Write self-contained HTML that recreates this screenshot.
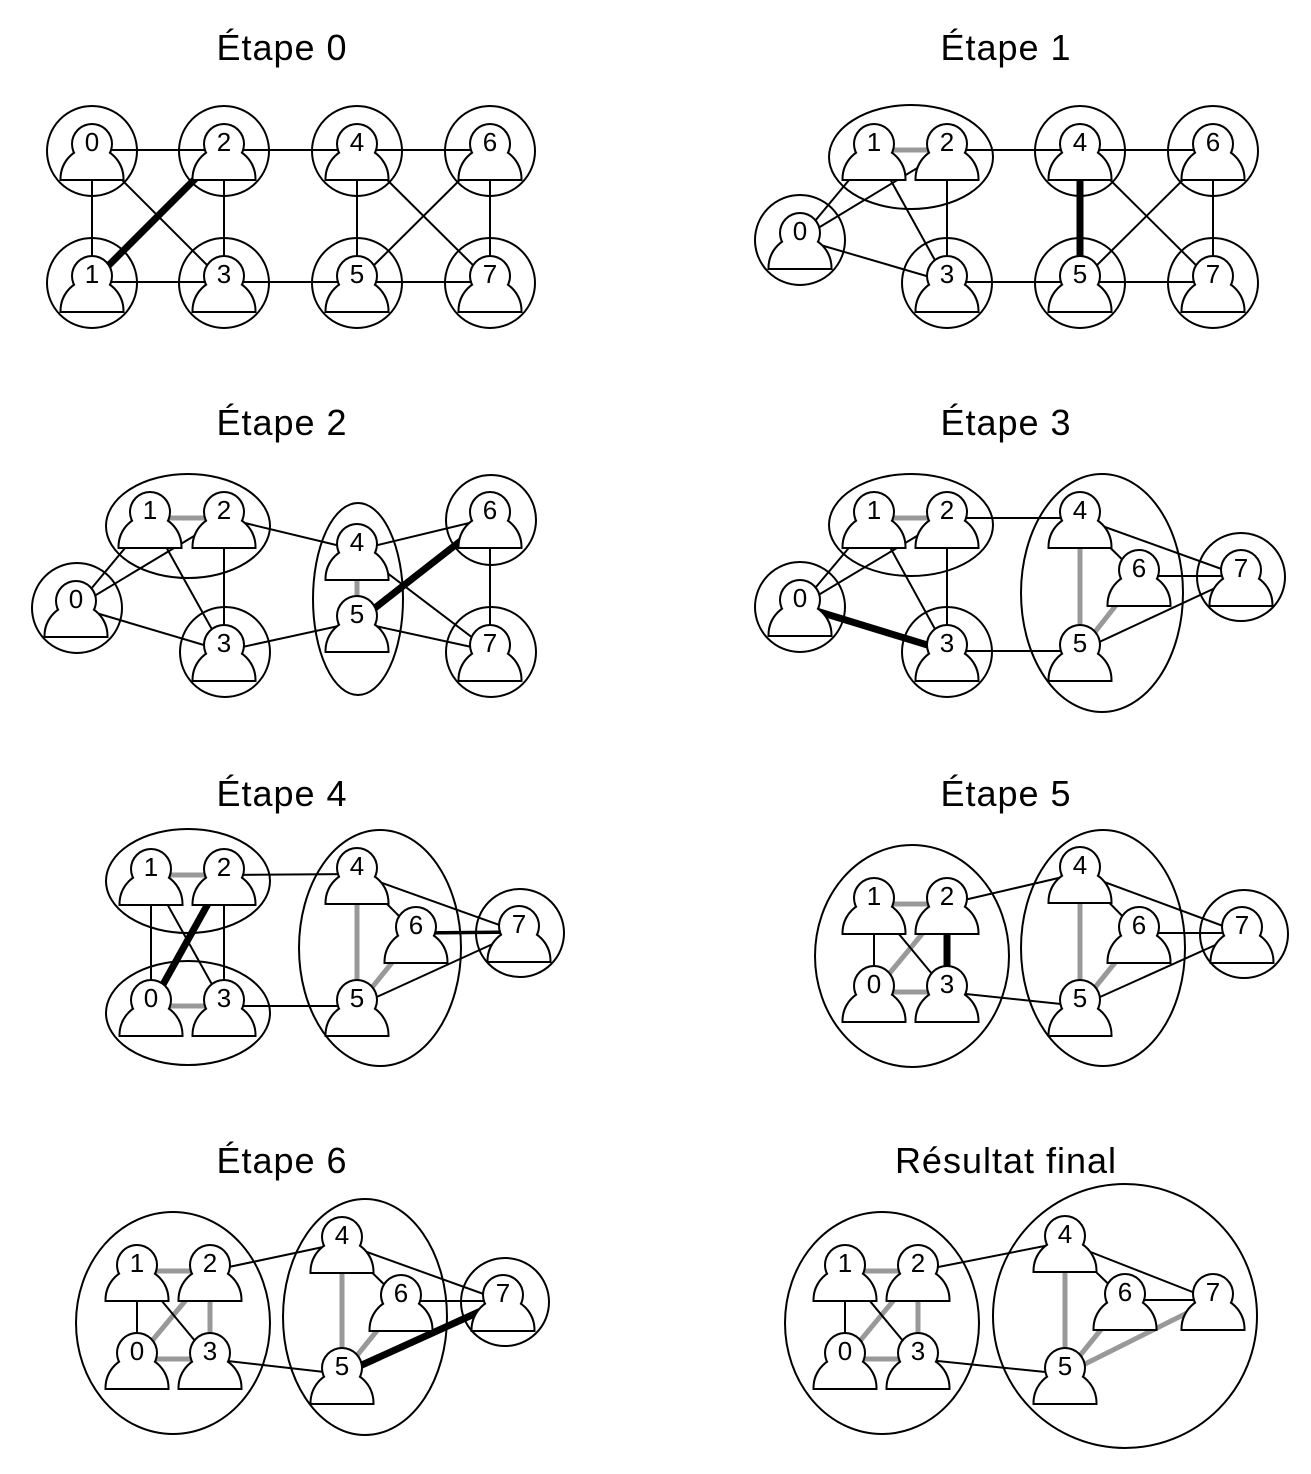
<!DOCTYPE html>
<html><head><meta charset="utf-8">
<style>
html,body{margin:0;padding:0;background:#fff;}
svg{display:block;}
.t{stroke:#000;stroke-width:2;}
.t3{stroke:#000;stroke-width:3.5;}
.g{stroke:#999;stroke-width:5;}
.k{stroke:#000;stroke-width:7;}
.c{fill:none;stroke:#000;stroke-width:2;}
.n{font-family:"Liberation Sans",sans-serif;font-size:26px;text-anchor:middle;fill:#000;}
.h{font-family:"Liberation Sans",sans-serif;font-size:36px;text-anchor:middle;letter-spacing:1px;fill:#000;}
</style></head>
<body>
<svg width="1311" height="1474" viewBox="0 0 1311 1474" xmlns="http://www.w3.org/2000/svg">
<defs>
<g id="p">
<circle cx="0" cy="-6" r="19" fill="#fff" stroke="#000" stroke-width="4"/>
<path d="M-30.5,29 A30.5,31 0 0 1 30.5,29 Z" fill="#fff" stroke="#000" stroke-width="4"/>
<circle cx="0" cy="-6" r="19" fill="#fff"/>
<path d="M-30.5,29 A30.5,31 0 0 1 30.5,29 Z" fill="#fff"/>
</g>
</defs>
<rect width="1311" height="1474" fill="#fff"/>

<!-- Titles -->
<text class="h" x="282" y="60">Étape 0</text>
<text class="h" x="1006" y="60">Étape 1</text>
<text class="h" x="282" y="435">Étape 2</text>
<text class="h" x="1006" y="435">Étape 3</text>
<text class="h" x="282" y="806">Étape 4</text>
<text class="h" x="1006" y="806">Étape 5</text>
<text class="h" x="282" y="1173">Étape 6</text>
<text class="h" x="1006" y="1173">Résultat final</text>

<!-- ===== Étape 0 ===== -->
<line class="t" x1="92" y1="150" x2="224" y2="150"/>
<line class="t" x1="224" y1="150" x2="357" y2="150"/>
<line class="t" x1="357" y1="150" x2="490" y2="150"/>
<line class="t" x1="92" y1="282" x2="224" y2="282"/>
<line class="t" x1="224" y1="282" x2="357" y2="282"/>
<line class="t" x1="357" y1="282" x2="490" y2="282"/>
<line class="t" x1="92" y1="150" x2="92" y2="282"/>
<line class="t" x1="224" y1="150" x2="224" y2="282"/>
<line class="t" x1="357" y1="150" x2="357" y2="282"/>
<line class="t" x1="490" y1="150" x2="490" y2="282"/>
<line class="t" x1="92" y1="150" x2="224" y2="282"/>
<line class="t" x1="357" y1="150" x2="490" y2="282"/>
<line class="t" x1="357" y1="282" x2="490" y2="150"/>
<line class="k" x1="92" y1="282" x2="224" y2="150"/>
<use href="#p" x="92" y="150"/><text class="n" x="92" y="151">0</text>
<use href="#p" x="92" y="282"/><text class="n" x="92" y="283">1</text>
<use href="#p" x="224" y="150"/><text class="n" x="224" y="151">2</text>
<use href="#p" x="224" y="282"/><text class="n" x="224" y="283">3</text>
<use href="#p" x="357" y="150"/><text class="n" x="357" y="151">4</text>
<use href="#p" x="357" y="282"/><text class="n" x="357" y="283">5</text>
<use href="#p" x="490" y="150"/><text class="n" x="490" y="151">6</text>
<use href="#p" x="490" y="282"/><text class="n" x="490" y="283">7</text>
<circle class="c" cx="92" cy="151" r="45"/>
<circle class="c" cx="92" cy="283" r="45"/>
<circle class="c" cx="224" cy="151" r="45"/>
<circle class="c" cx="224" cy="283" r="45"/>
<circle class="c" cx="357" cy="151" r="45"/>
<circle class="c" cx="357" cy="283" r="45"/>
<circle class="c" cx="490" cy="151" r="45"/>
<circle class="c" cx="490" cy="283" r="45"/>

<!-- ===== Étape 1 ===== -->
<line class="g" x1="874" y1="150" x2="947" y2="150"/>
<line class="t" x1="800" y1="239" x2="874" y2="150"/>
<line class="t" x1="800" y1="239" x2="947" y2="150"/>
<line class="t" x1="800" y1="239" x2="947" y2="282"/>
<line class="t" x1="874" y1="150" x2="947" y2="282"/>
<line class="t" x1="947" y1="150" x2="947" y2="282"/>
<line class="t" x1="947" y1="150" x2="1080" y2="150"/>
<line class="t" x1="947" y1="282" x2="1080" y2="282"/>
<line class="t" x1="1080" y1="150" x2="1213" y2="150"/>
<line class="t" x1="1080" y1="150" x2="1213" y2="282"/>
<line class="t" x1="1080" y1="282" x2="1213" y2="150"/>
<line class="t" x1="1080" y1="282" x2="1213" y2="282"/>
<line class="t" x1="1213" y1="150" x2="1213" y2="282"/>
<line class="k" x1="1080" y1="150" x2="1080" y2="282"/>
<use href="#p" x="800" y="239"/><text class="n" x="800" y="240">0</text>
<use href="#p" x="874" y="150"/><text class="n" x="874" y="151">1</text>
<use href="#p" x="947" y="150"/><text class="n" x="947" y="151">2</text>
<use href="#p" x="947" y="282"/><text class="n" x="947" y="283">3</text>
<use href="#p" x="1080" y="150"/><text class="n" x="1080" y="151">4</text>
<use href="#p" x="1080" y="282"/><text class="n" x="1080" y="283">5</text>
<use href="#p" x="1213" y="150"/><text class="n" x="1213" y="151">6</text>
<use href="#p" x="1213" y="282"/><text class="n" x="1213" y="283">7</text>
<ellipse class="c" cx="911" cy="157" rx="82" ry="52"/>
<circle class="c" cx="800" cy="240" r="45"/>
<circle class="c" cx="947" cy="283" r="45"/>
<circle class="c" cx="1080" cy="151" r="45"/>
<circle class="c" cx="1080" cy="283" r="45"/>
<circle class="c" cx="1213" cy="151" r="45"/>
<circle class="c" cx="1213" cy="283" r="45"/>

<!-- ===== Étape 2 ===== -->
<line class="g" x1="150" y1="518" x2="224" y2="518"/>
<line class="g" x1="357" y1="550" x2="357" y2="622"/>
<line class="t" x1="76" y1="607" x2="150" y2="518"/>
<line class="t" x1="76" y1="607" x2="224" y2="518"/>
<line class="t" x1="76" y1="607" x2="224" y2="651"/>
<line class="t" x1="150" y1="518" x2="224" y2="651"/>
<line class="t" x1="224" y1="518" x2="224" y2="651"/>
<line class="t" x1="224" y1="518" x2="357" y2="550"/>
<line class="t" x1="224" y1="651" x2="357" y2="622"/>
<line class="t" x1="357" y1="550" x2="490" y2="518"/>
<line class="t" x1="357" y1="550" x2="490" y2="651"/>
<line class="t" x1="357" y1="622" x2="490" y2="651"/>
<line class="t" x1="490" y1="518" x2="490" y2="651"/>
<line class="k" x1="357" y1="622" x2="490" y2="518"/>
<use href="#p" x="76" y="607"/><text class="n" x="76" y="608">0</text>
<use href="#p" x="150" y="518"/><text class="n" x="150" y="519">1</text>
<use href="#p" x="224" y="518"/><text class="n" x="224" y="519">2</text>
<use href="#p" x="224" y="651"/><text class="n" x="224" y="652">3</text>
<use href="#p" x="357" y="550"/><text class="n" x="357" y="551">4</text>
<use href="#p" x="357" y="622"/><text class="n" x="357" y="623">5</text>
<use href="#p" x="490" y="518"/><text class="n" x="490" y="519">6</text>
<use href="#p" x="490" y="651"/><text class="n" x="490" y="652">7</text>
<ellipse class="c" cx="188" cy="526" rx="82" ry="52"/>
<ellipse class="c" cx="358" cy="599" rx="45" ry="96"/>
<circle class="c" cx="77" cy="608" r="45"/>
<circle class="c" cx="225" cy="652" r="45"/>
<circle class="c" cx="491" cy="520" r="45"/>
<circle class="c" cx="491" cy="652" r="45"/>

<!-- ===== Étape 3 ===== -->
<line class="g" x1="874" y1="518" x2="947" y2="518"/>
<line class="g" x1="1080" y1="518" x2="1080" y2="651"/>
<line class="g" x1="1080" y1="651" x2="1139" y2="576"/>
<line class="t" x1="800" y1="606" x2="874" y2="518"/>
<line class="t" x1="800" y1="606" x2="947" y2="518"/>
<line class="t" x1="874" y1="518" x2="947" y2="651"/>
<line class="t" x1="947" y1="518" x2="947" y2="651"/>
<line class="t" x1="947" y1="518" x2="1080" y2="518"/>
<line class="t" x1="947" y1="651" x2="1080" y2="651"/>
<line class="t" x1="1080" y1="518" x2="1139" y2="576"/>
<line class="t" x1="1080" y1="518" x2="1241" y2="576"/>
<line class="t" x1="1139" y1="576" x2="1241" y2="576"/>
<line class="t" x1="1080" y1="651" x2="1241" y2="576"/>
<line class="k" x1="800" y1="606" x2="947" y2="651"/>
<use href="#p" x="800" y="606"/><text class="n" x="800" y="607">0</text>
<use href="#p" x="874" y="518"/><text class="n" x="874" y="519">1</text>
<use href="#p" x="947" y="518"/><text class="n" x="947" y="519">2</text>
<use href="#p" x="947" y="651"/><text class="n" x="947" y="652">3</text>
<use href="#p" x="1080" y="518"/><text class="n" x="1080" y="519">4</text>
<use href="#p" x="1080" y="651"/><text class="n" x="1080" y="652">5</text>
<use href="#p" x="1139" y="576"/><text class="n" x="1139" y="577">6</text>
<use href="#p" x="1241" y="576"/><text class="n" x="1241" y="577">7</text>
<ellipse class="c" cx="911" cy="525" rx="82" ry="51"/>
<ellipse class="c" cx="1102" cy="593" rx="81" ry="119"/>
<circle class="c" cx="800" cy="607" r="45"/>
<circle class="c" cx="947" cy="652" r="45"/>
<circle class="c" cx="1241" cy="577" r="44"/>

<!-- ===== Étape 4 ===== -->
<line class="g" x1="151" y1="875" x2="224" y2="875"/>
<line class="g" x1="151" y1="1006" x2="224" y2="1006"/>
<line class="g" x1="357" y1="874" x2="357" y2="1006"/>
<line class="g" x1="357" y1="1006" x2="416" y2="933"/>
<line class="t" x1="151" y1="875" x2="151" y2="1006"/>
<line class="t" x1="224" y1="875" x2="224" y2="1006"/>
<line class="t" x1="151" y1="875" x2="224" y2="1006"/>
<line class="t" x1="224" y1="875" x2="357" y2="874"/>
<line class="t" x1="224" y1="1006" x2="357" y2="1006"/>
<line class="t" x1="357" y1="874" x2="416" y2="933"/>
<line class="t" x1="357" y1="874" x2="519" y2="932"/>
<line class="t3" x1="416" y1="933" x2="519" y2="932"/>
<line class="t" x1="357" y1="1006" x2="519" y2="932"/>
<line class="k" x1="151" y1="1006" x2="224" y2="875"/>
<use href="#p" x="151" y="1006"/><text class="n" x="151" y="1007">0</text>
<use href="#p" x="151" y="875"/><text class="n" x="151" y="876">1</text>
<use href="#p" x="224" y="875"/><text class="n" x="224" y="876">2</text>
<use href="#p" x="224" y="1006"/><text class="n" x="224" y="1007">3</text>
<use href="#p" x="357" y="874"/><text class="n" x="357" y="875">4</text>
<use href="#p" x="357" y="1006"/><text class="n" x="357" y="1007">5</text>
<use href="#p" x="416" y="933"/><text class="n" x="416" y="934">6</text>
<use href="#p" x="519" y="932"/><text class="n" x="519" y="933">7</text>
<ellipse class="c" cx="188" cy="881" rx="82" ry="52"/>
<ellipse class="c" cx="188" cy="1013" rx="82" ry="52"/>
<ellipse class="c" cx="380" cy="948" rx="81" ry="118"/>
<circle class="c" cx="520" cy="933" r="44"/>

<!-- ===== Étape 5 ===== -->
<line class="g" x1="874" y1="904" x2="947" y2="904"/>
<line class="g" x1="874" y1="992" x2="947" y2="992"/>
<line class="g" x1="874" y1="992" x2="947" y2="904"/>
<line class="g" x1="1080" y1="873" x2="1080" y2="1006"/>
<line class="g" x1="1080" y1="1006" x2="1139" y2="933"/>
<line class="t" x1="874" y1="904" x2="874" y2="992"/>
<line class="t" x1="874" y1="904" x2="947" y2="992"/>
<line class="t" x1="947" y1="904" x2="1080" y2="873"/>
<line class="t" x1="947" y1="992" x2="1080" y2="1006"/>
<line class="t" x1="1080" y1="873" x2="1139" y2="933"/>
<line class="t" x1="1080" y1="873" x2="1242" y2="933"/>
<line class="t" x1="1139" y1="933" x2="1242" y2="933"/>
<line class="t" x1="1080" y1="1006" x2="1242" y2="933"/>
<line class="k" x1="947" y1="904" x2="947" y2="992"/>
<use href="#p" x="874" y="992"/><text class="n" x="874" y="993">0</text>
<use href="#p" x="874" y="904"/><text class="n" x="874" y="905">1</text>
<use href="#p" x="947" y="904"/><text class="n" x="947" y="905">2</text>
<use href="#p" x="947" y="992"/><text class="n" x="947" y="993">3</text>
<use href="#p" x="1080" y="873"/><text class="n" x="1080" y="874">4</text>
<use href="#p" x="1080" y="1006"/><text class="n" x="1080" y="1007">5</text>
<use href="#p" x="1139" y="933"/><text class="n" x="1139" y="934">6</text>
<use href="#p" x="1242" y="933"/><text class="n" x="1242" y="934">7</text>
<ellipse class="c" cx="912" cy="956" rx="97" ry="111"/>
<ellipse class="c" cx="1103" cy="948" rx="82" ry="118"/>
<circle class="c" cx="1244" cy="934" r="44"/>

<!-- ===== Étape 6 ===== -->
<line class="g" x1="137" y1="1271" x2="210" y2="1271"/>
<line class="g" x1="137" y1="1359" x2="210" y2="1359"/>
<line class="g" x1="210" y1="1271" x2="210" y2="1359"/>
<line class="g" x1="137" y1="1359" x2="210" y2="1271"/>
<line class="g" x1="342" y1="1243" x2="342" y2="1374"/>
<line class="g" x1="342" y1="1374" x2="401" y2="1301"/>
<line class="t" x1="137" y1="1271" x2="137" y2="1359"/>
<line class="t" x1="137" y1="1271" x2="210" y2="1359"/>
<line class="t" x1="210" y1="1271" x2="342" y2="1243"/>
<line class="t" x1="210" y1="1359" x2="342" y2="1374"/>
<line class="t" x1="342" y1="1243" x2="401" y2="1301"/>
<line class="t" x1="342" y1="1243" x2="503" y2="1301"/>
<line class="t" x1="401" y1="1301" x2="503" y2="1301"/>
<line class="k" x1="342" y1="1374" x2="503" y2="1301"/>
<use href="#p" x="137" y="1359"/><text class="n" x="137" y="1360">0</text>
<use href="#p" x="137" y="1271"/><text class="n" x="137" y="1272">1</text>
<use href="#p" x="210" y="1271"/><text class="n" x="210" y="1272">2</text>
<use href="#p" x="210" y="1359"/><text class="n" x="210" y="1360">3</text>
<use href="#p" x="342" y="1243"/><text class="n" x="342" y="1244">4</text>
<use href="#p" x="342" y="1374"/><text class="n" x="342" y="1375">5</text>
<use href="#p" x="401" y="1301"/><text class="n" x="401" y="1302">6</text>
<use href="#p" x="503" y="1301"/><text class="n" x="503" y="1302">7</text>
<ellipse class="c" cx="173" cy="1323" rx="97" ry="111"/>
<ellipse class="c" cx="365" cy="1317" rx="82" ry="118"/>
<circle class="c" cx="505" cy="1302" r="44"/>

<!-- ===== Résultat final ===== -->
<line class="g" x1="845" y1="1271" x2="918" y2="1271"/>
<line class="g" x1="845" y1="1359" x2="918" y2="1359"/>
<line class="g" x1="918" y1="1271" x2="918" y2="1359"/>
<line class="g" x1="845" y1="1359" x2="918" y2="1271"/>
<line class="g" x1="1065" y1="1242" x2="1065" y2="1374"/>
<line class="g" x1="1065" y1="1374" x2="1125" y2="1300"/>
<line class="g" x1="1065" y1="1374" x2="1213" y2="1300"/>
<line class="t" x1="845" y1="1271" x2="845" y2="1359"/>
<line class="t" x1="845" y1="1271" x2="918" y2="1359"/>
<line class="t" x1="918" y1="1271" x2="1065" y2="1242"/>
<line class="t" x1="918" y1="1359" x2="1065" y2="1374"/>
<line class="t" x1="1065" y1="1242" x2="1125" y2="1300"/>
<line class="t" x1="1065" y1="1242" x2="1213" y2="1300"/>
<line class="t" x1="1125" y1="1300" x2="1213" y2="1300"/>
<use href="#p" x="845" y="1359"/><text class="n" x="845" y="1360">0</text>
<use href="#p" x="845" y="1271"/><text class="n" x="845" y="1272">1</text>
<use href="#p" x="918" y="1271"/><text class="n" x="918" y="1272">2</text>
<use href="#p" x="918" y="1359"/><text class="n" x="918" y="1360">3</text>
<use href="#p" x="1065" y="1242"/><text class="n" x="1065" y="1243">4</text>
<use href="#p" x="1065" y="1374"/><text class="n" x="1065" y="1375">5</text>
<use href="#p" x="1125" y="1300"/><text class="n" x="1125" y="1301">6</text>
<use href="#p" x="1213" y="1300"/><text class="n" x="1213" y="1301">7</text>
<ellipse class="c" cx="882" cy="1323" rx="97" ry="111"/>
<circle class="c" cx="1125" cy="1316" r="132"/>
</svg>
</body></html>
